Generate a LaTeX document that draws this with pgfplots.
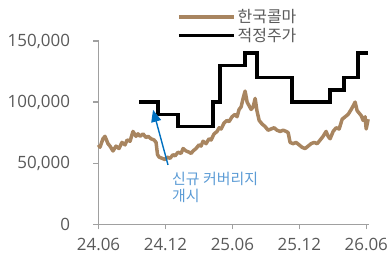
\documentclass[border=0pt]{standalone}
\usepackage{fontspec}
\setmainfont{Noto Sans CJK KR}
\newfontfamily\tickfont{Open Sans}
\usepackage{pgfplots}
\pgfplotsset{compat=1.18}
\usetikzlibrary{arrows.meta}
\definecolor{brownl}{RGB}{168,133,96}
\definecolor{txtgray}{RGB}{89,89,89}
\definecolor{axgray}{RGB}{160,160,160}
\definecolor{arrblue}{RGB}{0,112,192}
\definecolor{annblue}{RGB}{91,155,213}
\begin{document}
\begin{tikzpicture}
\begin{axis}[
  at={(98.5bp,35.7bp)}, anchor=south west,
  scale only axis, width=270bp, height=183.3bp,
  xmin=0, xmax=24.2, ymin=0, ymax=150000,
  axis lines*=left,
  axis line style={draw=axgray, line width=1.3bp, -},
  xtick={0,6,12,18,24},
  xticklabels={24.06,24.12,25.06,25.12,26.06},
  ytick={0,50000,100000,150000},
  scaled y ticks=false,
  /pgf/number format/.cd, fixed, 1000 sep={,}, assume math mode=true,
  /pgfplots/.cd,
  tick style={draw=axgray, line width=1.3bp},
  major tick length=5bp,
  tick align=outside,
  xtick pos=bottom, ytick pos=left,
  ticklabel style={font=\tickfont\fontsize{17}{19}\selectfont, text=txtgray},
  yticklabel style={xshift=-20bp},
  xticklabel style={yshift=-5bp},
  clip=false,
  legend style={at={(axis cs:7.04,150000)}, anchor=south west, yshift=-4bp,
    draw=none, fill=none, inner sep=0pt, row sep=0pt,
    font=\fontsize{16}{17}\selectfont, text=txtgray,
    legend cell align=left,
    /tikz/every even column/.append style={column sep=2bp}},
  legend image code/.code={\draw[#1] (0bp,0bp) -- (55bp,0bp);},
]
\addplot[brownl, line width=3.5bp, line join=round] coordinates {
(0,65000) (0.13,63000) (0.4,70000) (0.58,72000) (0.85,66000) (1.03,64000)
(1.3,60000) (1.57,64000) (1.84,62000) (2.1,67000) (2.38,65000) (2.56,69000)
(2.83,68000) (3.09,76000) (3.36,72000) (3.54,74000) (3.72,72000) (3.99,74000)
(4.26,71000) (4.44,72000) (4.71,70000) (4.98,69000) (5.16,67000) (5.29,57000)
(5.43,55000) (5.7,54000) (5.96,53000) (6.14,55000) (6.41,54000) (6.68,57000)
(6.86,56000) (7.13,59000) (7.4,58000) (7.58,62000) (7.85,60000) (8.12,59000)
(8.3,58000) (8.47,60000) (8.74,62000) (9.01,65000) (9.19,64000) (9.37,68000)
(9.64,66000) (9.91,70000) (10.09,69000) (10.36,74000) (10.63,76000) (10.81,79000)
(10.99,78000) (11.26,83000) (11.52,85000) (11.7,84000) (11.97,88000) (12.24,90000)
(12.42,88000) (12.6,94000) (12.78,96000) (12.96,103000) (13.14,109000) (13.32,100000)
(13.5,97000) (13.68,94000) (13.86,96000) (14.04,103000) (14.2,93000) (14.4,85000)
(14.67,82000) (14.93,80000) (15.2,77000) (15.47,78000) (15.74,79000) (16.0,77000)
(16.28,76000) (16.55,77000) (16.82,76000) (17.0,75000) (17.17,67000) (17.44,66000)
(17.71,67000) (17.98,65000) (18.25,63000) (18.52,62000) (18.79,64000) (19.06,66000)
(19.33,67000) (19.6,66000) (19.87,69000) (20.13,72000) (20.4,76000) (20.58,72000)
(20.76,70000) (21.03,76000) (21.3,79000) (21.57,78000) (21.84,86000) (22.11,88000)
(22.38,90000) (22.65,94000) (22.83,97000) (23.0,100000) (23.18,93000) (23.36,91000)
(23.54,89000) (23.72,85000) (23.9,88000) (23.99,78000) (24.17,86000)
};
\addlegendentry{한국콜마}
\addplot[black, line width=3.5bp, const plot] coordinates {
(3.63,100000) (5.34,90000) (7.13,80000) (10.27,100000) (10.9,130000)
(13.14,140000) (14.2,120000) (17.35,100000) (20.76,110000) (22.0,120000)
(23.27,140000) (24.17,140000)
};
\addlegendentry{적정주가}
\draw[arrblue, line width=1.4bp, -{Triangle[length=12bp,width=10bp]}]
  (axis cs:6.23,48600) -- (axis cs:4.89,93700);
\node[anchor=north west, inner sep=0pt, align=left, text=annblue,
  font=\fontsize{15}{16.5}\selectfont] at (axis cs:6.59,42500)
  {신규 커버리지\\개시};
\end{axis}
\pgfresetboundingbox
\path[use as bounding box] (0,0) rectangle (390bp,260bp);
\end{tikzpicture}
\end{document}
